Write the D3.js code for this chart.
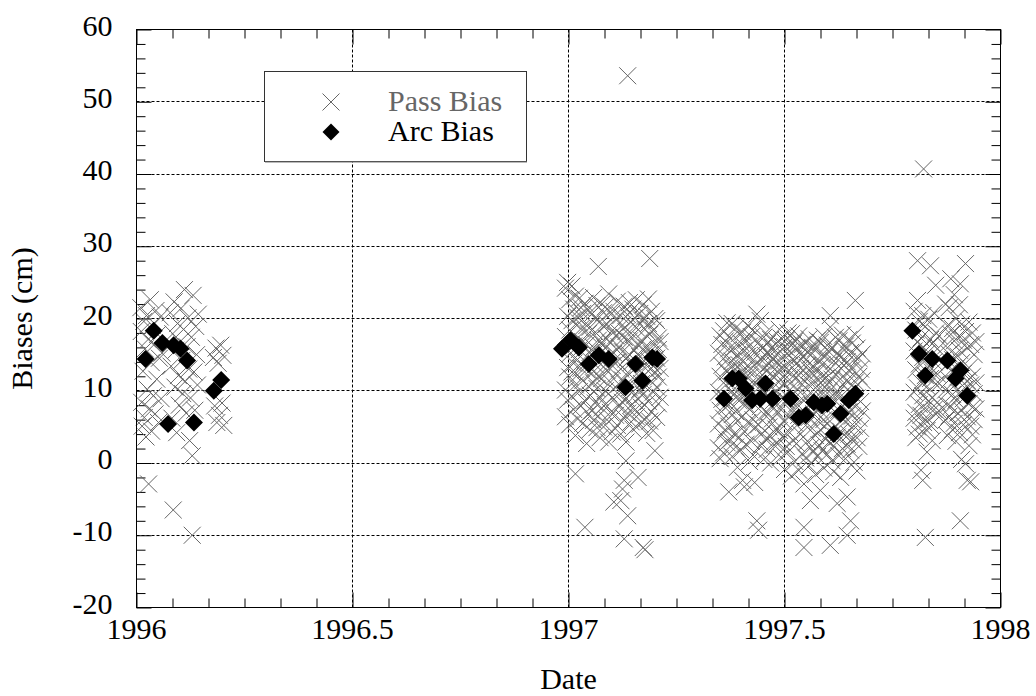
<!DOCTYPE html>
<html><head><meta charset="utf-8">
<script src="https://cdn.jsdelivr.net/npm/d3@7"></script>
<style>
html,body{margin:0;padding:0;background:#fff;}
svg{display:block;}
</style></head>
<body>
<svg id="chart" width="1036" height="696"></svg>
<script>
// ---------------- data ----------------
const xTicks = [1996, 1996.5, 1997, 1997.5, 1998];
const xTickLabels = ["1996", "1996.5", "1997", "1997.5", "1998"];
const yTicks = [-20, -10, 0, 10, 20, 30, 40, 50, 60];
const xTitle = "Date";
const yTitle = "Biases (cm)";
const seriesNames = ["Pass Bias", "Arc Bias"];

const passBias1996 = [
 [1996.010,21.5],[1996.011,18.2],[1996.012,8.4],[1996.013,5.1],[1996.015,12.7],[1996.017,19.6],[1996.018,6.3],
 [1996.020,15.8],[1996.022,3.6],[1996.023,20.4],[1996.025,10.2],[1996.027,17.1],[1996.028,-2.9],[1996.030,7.5],
 [1996.032,22.6],[1996.034,13.9],[1996.035,4.4],[1996.037,19.0],[1996.039,9.3],[1996.041,16.4],[1996.043,6.8],
 [1996.045,21.1],[1996.047,11.6],[1996.049,17.8],[1996.051,5.6],[1996.053,14.5],[1996.055,20.2],[1996.057,8.9],
 [1996.059,15.2],
 [1996.078,20.8],[1996.080,13.4],[1996.082,6.2],[1996.084,17.9],[1996.085,-6.5],[1996.087,22.3],[1996.089,10.5],
 [1996.091,15.6],[1996.093,4.2],[1996.095,19.3],[1996.097,12.1],[1996.099,8.0],[1996.101,16.8],[1996.103,21.4],
 [1996.105,14.2],[1996.107,9.6],[1996.109,18.5],[1996.111,24.0],[1996.113,11.3],[1996.115,6.9],[1996.117,16.1],
 [1996.119,20.1],[1996.121,13.0],[1996.123,3.1],[1996.125,9.0],[1996.127,17.4],[1996.129,1.0],[1996.129,-10.0],
 [1996.131,23.2],[1996.133,12.6],[1996.135,7.3],[1996.137,18.9],[1996.139,15.0],[1996.141,10.8],[1996.143,20.6],
 [1996.178,14.6],[1996.181,7.9],[1996.184,15.9],[1996.186,5.6],[1996.189,13.8],[1996.192,6.6],[1996.195,16.3],
 [1996.198,8.3],[1996.200,14.9],[1996.202,5.2]
];

const passBias1997a = [
 [1996.993,24.2],[1996.993,17.5],[1996.993,10.1],[1996.993,6.4],
 [1996.998,25.0],[1996.998,20.3],[1996.998,13.2],[1996.998,8.7],
 [1997.003,22.6],[1997.003,18.4],[1997.003,15.1],[1997.003,11.9],[1997.003,5.3],
 [1997.008,24.5],[1997.008,19.7],[1997.008,12.6],[1997.008,9.2],
 [1997.012,21.3],[1997.012,16.2],[1997.012,7.4],[1997.012,13.8],
 [1997.016,23.1],[1997.016,14.6],[1997.016,10.8],[1997.016,3.8],[1997.016,-1.5],
 [1997.021,20.2],[1997.021,17.3],[1997.021,12.2],[1997.021,6.1],
 [1997.025,22.8],[1997.025,15.7],[1997.025,9.9],[1997.025,19.4],
 [1997.029,18.6],[1997.029,13.1],[1997.029,7.9],[1997.029,21.5],
 [1997.033,16.8],[1997.033,11.4],[1997.033,20.7],[1997.033,5.5],
 [1997.038,22.1],[1997.038,14.1],[1997.038,8.6],[1997.038,-8.9],
 [1997.042,19.0],[1997.042,12.9],[1997.042,2.7],[1997.042,16.4],
 [1997.046,21.2],[1997.046,10.6],[1997.046,6.8],[1997.046,17.9],
 [1997.050,15.3],[1997.050,9.4],[1997.050,18.8],[1997.050,4.6],
 [1997.054,20.6],[1997.054,12.4],[1997.054,7.2],[1997.054,14.9],
 [1997.058,22.9],[1997.058,16.0],[1997.058,11.1],[1997.058,5.9],
 [1997.062,18.1],[1997.062,13.6],[1997.062,8.3],[1997.062,20.0],
 [1997.066,15.5],[1997.066,10.3],[1997.066,4.9],[1997.066,21.8],
 [1997.069,27.2],[1997.069,17.0],[1997.069,12.0],[1997.069,6.5],
 [1997.073,19.6],[1997.073,14.3],[1997.073,9.1],[1997.073,3.5],
 [1997.077,22.0],[1997.077,16.7],[1997.077,11.7],[1997.077,7.6],
 [1997.081,18.9],[1997.081,13.3],[1997.081,5.0],[1997.081,20.8],
 [1997.085,15.9],[1997.085,10.0],[1997.085,8.1],[1997.085,21.6],
 [1997.089,19.2],[1997.089,12.8],[1997.089,6.0],[1997.089,17.2],
 [1997.093,23.4],[1997.093,14.8],[1997.093,9.6],[1997.093,2.9],
 [1997.097,16.6],[1997.097,11.2],[1997.097,20.9],[1997.097,7.0],
 [1997.101,18.3],[1997.101,13.5],[1997.101,4.3],
 [1997.105,21.0],[1997.105,15.2],[1997.105,8.8],[1997.105,-5.4],
 [1997.109,17.6],[1997.109,12.3],[1997.109,6.6],[1997.109,19.9],
 [1997.113,14.0],[1997.113,9.7],[1997.113,22.4],[1997.113,5.2],
 [1997.117,18.0],[1997.117,16.1],[1997.117,10.9],[1997.117,7.8],
 [1997.121,20.4],[1997.121,13.0],[1997.121,4.0],[1997.121,-5.2],
 [1997.125,15.4],[1997.125,11.5],[1997.125,8.4],[1997.125,19.1],[1997.125,-3.6],
 [1997.129,21.7],[1997.129,17.4],[1997.129,6.2],[1997.129,-10.5],[1997.129,-2.4],
 [1997.133,14.4],[1997.133,9.0],[1997.133,2.9],[1997.133,0.3],[1997.133,18.2],
 [1997.137,53.6],[1997.137,20.5],[1997.137,12.5],[1997.137,-7.3],[1997.137,6.9],
 [1997.141,16.9],[1997.141,10.4],[1997.141,15.0],[1997.141,22.2],
 [1997.145,19.5],[1997.145,13.9],[1997.145,8.0],[1997.145,5.7],
 [1997.149,17.7],[1997.149,11.8],[1997.149,21.3],[1997.149,4.7],
 [1997.153,15.6],[1997.153,9.3],[1997.153,20.1],[1997.153,7.3],
 [1997.157,18.7],[1997.157,13.2],[1997.157,6.4],[1997.157,22.6],
 [1997.161,16.3],[1997.161,12.1],[1997.161,-2.0],[1997.161,8.9],
 [1997.165,20.7],[1997.165,14.7],[1997.165,10.2],[1997.165,5.4],
 [1997.169,17.0],[1997.169,11.0],[1997.169,19.8],[1997.169,7.7],
 [1997.173,21.9],[1997.173,15.8],[1997.173,9.5],[1997.173,-11.7],
 [1997.177,18.5],[1997.177,13.7],[1997.177,6.0],[1997.177,-12.0],
 [1997.181,16.0],[1997.181,10.7],[1997.181,20.3],[1997.181,4.1],
 [1997.185,19.3],[1997.185,12.7],[1997.185,8.5],[1997.185,22.7],
 [1997.188,28.3],[1997.188,17.8],[1997.188,14.0],[1997.188,5.8],
 [1997.192,15.1],[1997.192,11.3],[1997.192,21.0],[1997.192,7.1],
 [1997.196,18.4],[1997.196,13.4],[1997.196,9.8],[1997.196,4.5],
 [1997.200,16.5],[1997.200,12.6],[1997.200,1.7],[1997.200,20.0],
 [1997.204,19.7],[1997.204,14.5],[1997.204,10.5],[1997.204,6.3],
 [1997.208,17.3],[1997.208,11.9],[1997.208,8.2],[1997.208,15.7],
 [1997.212,13.1],[1997.212,16.8],[1997.212,9.1]
];

const passBias1997b = [
 [1997.347,15.2],[1997.347,9.8],[1997.347,5.4],[1997.347,2.1],
 [1997.351,17.6],[1997.351,12.0],[1997.351,7.3],[1997.351,0.6],
 [1997.355,13.5],[1997.355,16.4],[1997.355,3.9],[1997.355,8.8],
 [1997.359,18.3],[1997.359,11.1],[1997.359,6.2],[1997.359,1.4],
 [1997.363,14.7],[1997.363,9.0],[1997.363,4.6],[1997.363,16.9],
 [1997.367,19.4],[1997.367,12.6],[1997.367,7.9],[1997.367,2.8],
 [1997.371,15.8],[1997.371,10.4],[1997.371,5.1],[1997.371,-4.0],
 [1997.375,17.2],[1997.375,13.3],[1997.375,8.3],[1997.375,3.2],
 [1997.379,19.3],[1997.379,14.1],[1997.379,6.7],[1997.379,0.9],
 [1997.383,16.0],[1997.383,11.7],[1997.383,4.0],[1997.383,9.5],
 [1997.387,18.7],[1997.387,12.9],[1997.387,7.1],[1997.387,2.2],
 [1997.391,15.0],[1997.391,10.0],[1997.391,-0.6],[1997.391,5.8],
 [1997.395,17.9],[1997.395,13.6],[1997.395,8.6],[1997.395,3.5],
 [1997.399,14.3],[1997.399,9.2],[1997.399,1.8],[1997.399,16.6],
 [1997.403,18.1],[1997.403,11.4],[1997.403,6.5],[1997.403,-2.4],
 [1997.407,15.6],[1997.407,12.3],[1997.407,4.4],[1997.407,-3.3],
 [1997.411,17.0],[1997.411,8.1],[1997.411,2.6],[1997.411,13.0],
 [1997.415,19.0],[1997.415,14.8],[1997.415,10.6],[1997.415,5.6],
 [1997.419,16.2],[1997.419,11.9],[1997.419,7.4],[1997.419,0.2],
 [1997.423,14.0],[1997.423,9.4],[1997.423,3.0],[1997.423,17.5],
 [1997.427,18.4],[1997.427,12.8],[1997.427,6.0],[1997.427,1.1],
 [1997.431,15.3],[1997.431,10.8],[1997.431,-2.7],[1997.431,4.9],
 [1997.436,20.6],[1997.436,13.8],[1997.436,8.4],[1997.436,-8.0],
 [1997.440,16.7],[1997.440,11.6],[1997.440,5.3],[1997.440,-9.3],
 [1997.444,19.7],[1997.444,14.4],[1997.444,7.8],[1997.444,2.4],
 [1997.448,15.9],[1997.448,10.2],[1997.448,4.1],[1997.448,12.2],
 [1997.452,17.4],[1997.452,13.1],[1997.452,6.8],[1997.452,0.5],
 [1997.456,14.9],[1997.456,9.6],[1997.456,3.3],[1997.456,18.0],
 [1997.460,16.5],[1997.460,11.0],[1997.460,7.0],[1997.460,1.9],
 [1997.464,13.7],[1997.464,15.1],[1997.464,5.0],[1997.464,9.1],
 [1997.468,17.1],[1997.468,12.4],[1997.468,3.7],[1997.468,0.0],
 [1997.472,14.5],[1997.472,8.5],[1997.472,6.1],[1997.472,16.0],
 [1997.476,11.8],[1997.476,15.4],[1997.476,2.5],[1997.476,7.6],
 [1997.480,13.9],[1997.480,9.9],[1997.480,4.7],
 [1997.484,16.8],[1997.484,12.7],[1997.484,6.9],[1997.484,2.6],
 [1997.488,14.1],[1997.488,10.3],[1997.488,4.5],[1997.488,18.5],
 [1997.492,17.3],[1997.492,11.5],[1997.492,7.7],[1997.492,0.8],
 [1997.496,13.2],[1997.496,9.1],[1997.496,3.6],[1997.496,15.7],
 [1997.500,16.1],[1997.500,12.2],[1997.500,5.7],[1997.500,-0.9],
 [1997.504,14.6],[1997.504,8.7],[1997.504,2.3],[1997.504,17.0],
 [1997.508,18.0],[1997.508,11.3],[1997.508,6.4],[1997.508,1.5],
 [1997.512,15.5],[1997.512,10.1],[1997.512,4.2],[1997.512,13.6],
 [1997.516,17.9],[1997.516,12.5],[1997.516,7.2],[1997.516,-1.8],
 [1997.520,14.4],[1997.520,9.5],[1997.520,3.1],[1997.520,16.5],
 [1997.524,16.9],[1997.524,11.7],[1997.524,5.5],[1997.524,0.2],
 [1997.528,13.8],[1997.528,8.2],[1997.528,2.7],[1997.528,15.9],
 [1997.533,17.6],[1997.533,12.1],[1997.533,6.6],[1997.533,-1.0],
 [1997.537,15.0],[1997.537,9.8],[1997.537,4.0],[1997.537,13.1],
 [1997.541,16.4],[1997.541,10.9],[1997.541,1.3],[1997.541,7.0],
 [1997.545,14.7],[1997.545,8.6],[1997.545,-2.9],[1997.545,-8.9],[1997.545,-11.7],
 [1997.549,16.6],[1997.549,11.8],[1997.549,5.2],[1997.549,0.7],
 [1997.553,13.5],[1997.553,9.3],[1997.553,3.0],[1997.553,15.4],
 [1997.557,17.2],[1997.557,12.9],[1997.557,6.3],[1997.557,-0.4],
 [1997.560,14.9],[1997.560,10.6],[1997.560,2.1],[1997.560,-5.2],
 [1997.564,16.0],[1997.564,8.0],[1997.564,4.8],[1997.564,12.4],
 [1997.568,13.3],[1997.568,11.4],[1997.568,6.8],[1997.568,1.6],
 [1997.572,15.8],[1997.572,9.0],[1997.572,3.8],[1997.572,-1.6],
 [1997.576,17.0],[1997.576,12.6],[1997.576,5.9],[1997.576,0.9],
 [1997.580,14.2],[1997.580,10.3],[1997.580,7.4],[1997.580,2.5],
 [1997.583,16.7],[1997.583,11.1],[1997.583,4.6],[1997.583,-3.8],
 [1997.587,13.6],[1997.587,9.5],[1997.587,1.7],[1997.587,15.0],
 [1997.591,17.5],[1997.591,12.2],[1997.591,6.0],[1997.591,-0.7],
 [1997.595,14.8],[1997.595,8.4],[1997.595,3.3],[1997.595,11.7],
 [1997.599,16.3],[1997.599,10.8],[1997.599,5.4],[1997.599,1.2],
 [1997.603,15.4],[1997.603,9.9],[1997.603,7.9],[1997.603,2.9],
 [1997.606,20.4],[1997.606,18.8],[1997.606,13.0],[1997.606,-11.4],[1997.606,4.3],
 [1997.610,16.0],[1997.610,11.6],[1997.610,6.7],[1997.610,0.3],
 [1997.614,14.1],[1997.614,8.8],[1997.614,2.4],[1997.614,-1.2],
 [1997.618,17.4],[1997.618,12.3],[1997.618,5.0],[1997.618,9.4],
 [1997.622,15.2],[1997.622,10.0],[1997.622,3.6],[1997.622,-5.6],
 [1997.626,16.9],[1997.626,13.4],[1997.626,7.3],[1997.626,1.0],
 [1997.630,14.6],[1997.630,9.2],[1997.630,-2.0],[1997.630,4.4],
 [1997.634,17.7],[1997.634,11.9],[1997.634,6.1],[1997.634,2.0],
 [1997.638,15.7],[1997.638,10.7],[1997.638,3.9],[1997.638,13.5],
 [1997.641,16.2],[1997.641,8.3],[1997.641,5.8],[1997.641,0.6],
 [1997.645,14.0],[1997.645,11.5],[1997.645,-4.7],[1997.645,-10.0],[1997.645,2.6],
 [1997.649,17.1],[1997.649,12.8],[1997.649,7.1],[1997.649,4.0],
 [1997.653,15.3],[1997.653,9.7],[1997.653,-8.0],[1997.653,1.8],
 [1997.657,16.6],[1997.657,13.0],[1997.657,6.5],[1997.657,3.2],
 [1997.661,14.3],[1997.661,10.4],[1997.661,5.1],[1997.661,0.1],
 [1997.664,22.5],[1997.664,17.8],[1997.664,11.2],[1997.664,7.8],
 [1997.668,15.9],[1997.668,9.0],[1997.668,3.5],[1997.668,-1.1],
 [1997.672,14.5],[1997.672,12.0],[1997.672,6.2],[1997.672,2.3],
 [1997.676,13.0],[1997.676,8.5],[1997.676,4.8],
 [1997.680,11.4],[1997.680,7.2],[1997.680,15.1]
];

const passBias1997c = [
 [1997.800,21.0],[1997.800,15.5],[1997.800,9.8],[1997.800,6.2],
 [1997.804,18.4],[1997.804,12.9],[1997.804,7.0],[1997.804,3.5],
 [1997.808,28.0],[1997.808,22.5],[1997.808,16.7],[1997.808,10.4],[1997.808,5.0],
 [1997.812,19.6],[1997.812,13.7],[1997.812,8.1],[1997.812,4.0],
 [1997.816,17.3],[1997.816,11.2],[1997.816,6.6],[1997.816,-1.0],
 [1997.820,20.4],[1997.820,14.6],[1997.820,9.3],[1997.820,-2.4],
 [1997.822,40.7],[1997.822,16.0],[1997.822,5.6],
 [1997.826,18.9],[1997.826,12.1],[1997.826,7.6],[1997.826,-10.3],
 [1997.830,15.2],[1997.830,10.6],[1997.830,4.5],[1997.830,1.5],
 [1997.834,19.9],[1997.834,13.4],[1997.834,8.6],[1997.834,6.0],
 [1997.838,27.3],[1997.838,17.1],[1997.838,11.7],[1997.838,5.2],
 [1997.842,16.5],[1997.842,12.6],[1997.842,9.0],[1997.842,3.1],
 [1997.846,20.8],[1997.846,14.0],[1997.846,7.4],
 [1997.850,24.6],[1997.850,18.0],[1997.850,10.9],[1997.850,6.8],
 [1997.854,15.8],[1997.854,12.3],[1997.854,8.4],
 [1997.858,17.6],[1997.858,11.0],[1997.858,7.2],
 [1997.873,22.0],[1997.873,16.2],[1997.873,10.1],[1997.873,5.9],
 [1997.877,19.0],[1997.877,13.6],[1997.877,8.0],[1997.877,3.8],
 [1997.881,21.5],[1997.881,15.1],[1997.881,11.5],[1997.881,6.5],
 [1997.885,25.5],[1997.885,17.8],[1997.885,12.8],[1997.885,7.8],
 [1997.889,18.6],[1997.889,14.3],[1997.889,9.5],[1997.889,4.6],
 [1997.893,23.3],[1997.893,16.9],[1997.893,10.7],[1997.893,5.5],
 [1997.897,20.0],[1997.897,13.1],[1997.897,8.7],[1997.897,3.0],
 [1997.901,17.4],[1997.901,14.8],[1997.901,11.9],[1997.901,6.9],
 [1997.905,21.9],[1997.905,15.6],[1997.905,9.7],[1997.905,4.2],
 [1997.907,24.8],[1997.907,-8.0],
 [1997.910,19.2],[1997.910,13.9],[1997.910,7.3],[1997.910,0.5],
 [1997.914,17.0],[1997.914,12.4],[1997.914,8.9],[1997.914,5.3],
 [1997.919,27.6],[1997.919,18.2],[1997.919,10.3],[1997.919,-0.1],
 [1997.923,15.9],[1997.923,11.4],[1997.923,6.4],[1997.923,-2.4],
 [1997.927,19.5],[1997.927,13.2],[1997.927,8.2],[1997.927,2.4],
 [1997.931,16.4],[1997.931,10.8],[1997.931,5.1],[1997.931,-2.6],
 [1997.935,18.0],[1997.935,12.0],[1997.935,7.7],[1997.935,3.9],
 [1997.939,15.0],[1997.939,9.6],[1997.939,6.0],
 [1997.943,16.8],[1997.943,11.1],[1997.943,7.5]
];

const arcBias = [
 [1996.021,14.4],[1996.040,18.3],[1996.060,16.6],[1996.073,5.4],[1996.086,16.3],[1996.102,15.8],
 [1996.117,14.2],[1996.133,5.6],[1996.179,10.0],[1996.196,11.5],
 [1996.985,15.8],[1997.005,17.0],[1997.024,16.0],[1997.047,13.7],[1997.070,14.9],[1997.093,14.4],
 [1997.132,10.5],[1997.155,13.7],[1997.171,11.4],[1997.194,14.6],[1997.205,14.4],
 [1997.360,8.9],[1997.379,11.7],[1997.394,11.7],[1997.410,10.3],[1997.425,8.7],[1997.444,8.9],
 [1997.456,11.0],[1997.472,8.9],
 [1997.514,8.9],[1997.533,6.3],[1997.549,6.6],[1997.568,8.4],[1997.587,8.0],[1997.599,8.2],
 [1997.614,4.0],[1997.630,6.8],[1997.649,8.7],[1997.664,9.6],
 [1997.796,18.3],[1997.811,15.1],[1997.826,12.1],[1997.842,14.4],[1997.877,14.2],[1997.896,11.7],
 [1997.907,12.8],[1997.923,9.3]
];

// ---------------- drawing ----------------
const svg = d3.select("#chart");
const FONT = 30;
const FAMILY = '"Liberation Serif"';
const x = d3.scaleLinear().domain([1996, 1998]).range([136.5, 1000.5]);
const y = d3.scaleLinear().domain([-20, 60]).range([607.5, 29.5]);
const [x0, x1] = x.range();
const [y0, y1] = y.range();

svg.append("rect").attr("width", 1036).attr("height", 696).attr("fill", "#fff");

// grid
const grid = svg.append("g").attr("stroke", "#000").attr("stroke-width", 1)
  .attr("stroke-dasharray", "3,2").attr("fill", "none");
grid.selectAll(".gx").data(xTicks.slice(1, -1)).join("line")
  .attr("x1", d => Math.round(x(d) - 0.5) + 0.5).attr("x2", d => Math.round(x(d) - 0.5) + 0.5)
  .attr("y1", y1).attr("y2", y0);
grid.selectAll(".gy").data(yTicks.slice(1, -1)).join("line")
  .attr("y1", d => Math.round(y(d) - 0.5) + 0.5).attr("y2", d => Math.round(y(d) - 0.5) + 0.5)
  .attr("x1", x0).attr("x2", x1);

// ticks (inward, all four sides)
const xMinor = d3.range(0, 25).map(i => 1996 + i / 12).filter(v => !xTicks.some(t => Math.abs(t - v) < 1e-6));
const yMinor = d3.range(-20, 61, 2).filter(v => v % 10 !== 0);
function tickAxes(axisFn, scale, values, size, transform) {
  const g = svg.append("g").attr("transform", transform)
    .call(axisFn(scale).tickValues(values).tickSize(size).tickFormat(""));
  g.select(".domain").remove();
  g.selectAll("line").attr("stroke", "#000").attr("stroke-width", 1);
}
tickAxes(d3.axisBottom, x, xTicks, -15, `translate(0,${y0})`);
tickAxes(d3.axisBottom, x, xMinor, -9, `translate(0,${y0})`);
tickAxes(d3.axisTop, x, xTicks, -15, `translate(0,${y1})`);
tickAxes(d3.axisTop, x, xMinor, -9, `translate(0,${y1})`);
tickAxes(d3.axisLeft, y, yTicks, -15, `translate(${x0},0)`);
tickAxes(d3.axisLeft, y, yMinor, -9, `translate(${x0},0)`);
tickAxes(d3.axisRight, y, yTicks, -15, `translate(${x1},0)`);
tickAxes(d3.axisRight, y, yMinor, -9, `translate(${x1},0)`);

// tick labels
svg.append("g").selectAll("text").data(xTicks).join("text")
  .attr("x", d => x(d)).attr("y", 639).attr("text-anchor", "middle")
  .style("font-family", FAMILY).style("font-size", FONT + "px").attr("fill", "#000")
  .text((d, i) => xTickLabels[i]);
svg.append("g").selectAll("text").data(yTicks).join("text")
  .attr("x", x0 - 24).attr("y", d => y(d) + 6).attr("text-anchor", "end")
  .style("font-family", FAMILY).style("font-size", FONT + "px").attr("fill", "#000")
  .text(d => d);

// axis titles
svg.append("text").attr("x", (x0 + x1) / 2).attr("y", 689).attr("text-anchor", "middle")
  .style("font-family", FAMILY).style("font-size", FONT + "px").text(xTitle);
svg.append("text").attr("transform", `translate(32,${(y0 + y1) / 2}) rotate(-90)`)
  .attr("text-anchor", "middle").style("font-family", FAMILY).style("font-size", FONT + "px").text(yTitle);

// marks
const passAll = [].concat(passBias1996, passBias1997a, passBias1997b, passBias1997c);
const C = 8.5;
const crossPath = `M${-C},${-C}L${C},${C}M${-C},${C}L${C},${-C}`;
const D = 9;
const diamondPath = `M0,${-D}L${D},0L0,${D}L${-D},0Z`;

const plot = svg.append("g");
plot.selectAll(".pass").data(passAll).join("path")
  .attr("class", "pass")
  .attr("transform", d => `translate(${x(d[0])},${y(d[1])})`)
  .attr("d", crossPath).attr("stroke", "#666").attr("stroke-width", 1).attr("fill", "none");
plot.selectAll(".arc").data(arcBias).join("path")
  .attr("class", "arc")
  .attr("transform", d => `translate(${x(d[0])},${y(d[1])})`)
  .attr("d", diamondPath).attr("fill", "#000");

// border
svg.append("rect").attr("x", x0).attr("y", y1).attr("width", x1 - x0).attr("height", y0 - y1)
  .attr("fill", "none").attr("stroke", "#000").attr("stroke-width", 1);

// legend
const lg = svg.append("g");
lg.append("rect").attr("x", 264.5).attr("y", 71.5).attr("width", 262).attr("height", 90)
  .attr("fill", "#fff").attr("stroke", "#333").attr("stroke-width", 1);
lg.append("line").attr("x1", 265).attr("x2", 527).attr("y1", 162).attr("y2", 162)
  .attr("stroke", "#777").attr("stroke-width", 1);
lg.append("path").attr("transform", "translate(331,102)").attr("d", crossPath)
  .attr("stroke", "#666").attr("fill", "none");
lg.append("path").attr("transform", "translate(331,132)").attr("d", `M0,-8.5L8.5,0L0,8.5L-8.5,0Z`).attr("fill", "#000");
lg.append("text").attr("x", 388).attr("y", 111).style("font-family", FAMILY).style("font-size", FONT + "px").attr("fill", "#666").text(seriesNames[0]);
lg.append("text").attr("x", 388).attr("y", 141).style("font-family", FAMILY).style("font-size", FONT + "px").attr("fill", "#000").text(seriesNames[1]);
</script>
</body></html>
